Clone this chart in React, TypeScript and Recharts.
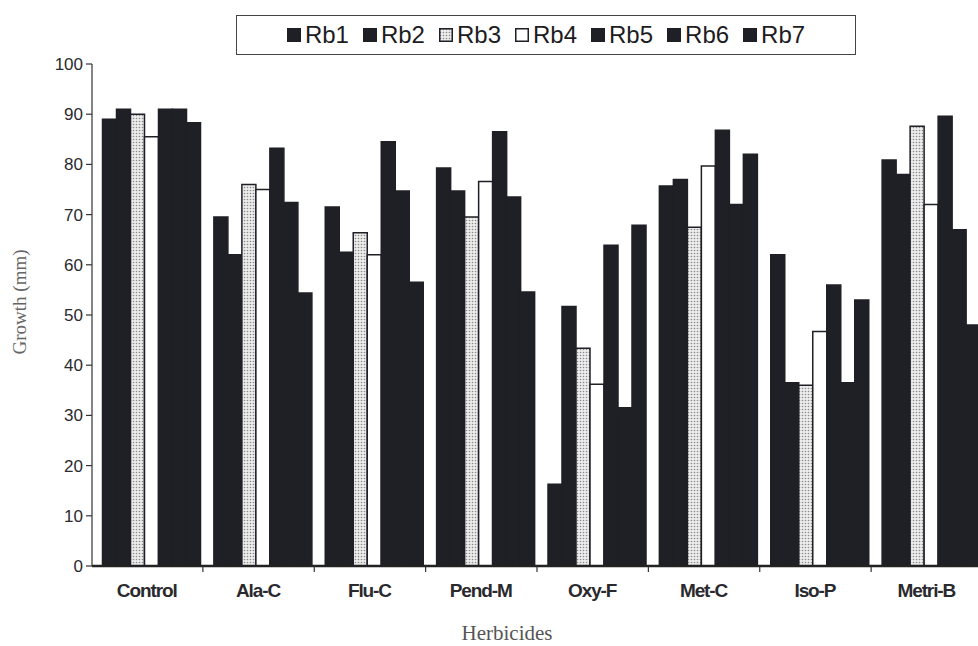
import React from 'react';
import { BarChart, Bar, XAxis, YAxis, Legend } from 'recharts';

const categories = ['Control', 'Ala-C', 'Flu-C', 'Pend-M', 'Oxy-F', 'Met-C', 'Iso-P', 'Metri-B'];
const rb1 = [89, 69.5, 71.5, 79.3, 16.3, 75.7, 62, 80.9];
const rb2 = [91, 62, 62.5, 74.7, 51.7, 77, 36.5, 78];
const rb3 = [90, 76, 66.4, 69.5, 43.4, 67.5, 36, 87.6];
const rb4 = [85.5, 75, 62, 76.6, 36.2, 79.7, 46.7, 72];
const rb5 = [91, 83.2, 84.5, 86.5, 63.9, 86.8, 56, 89.6];
const rb6 = [91, 72.4, 74.7, 73.5, 31.5, 72, 36.5, 67];
const rb7 = [88.3, 54.4, 56.5, 54.6, 67.9, 82, 53, 48];
const yTicks = [0, 10, 20, 30, 40, 50, 60, 70, 80, 90, 100];
const seriesNames = ['Rb1', 'Rb2', 'Rb3', 'Rb4', 'Rb5', 'Rb6', 'Rb7'];
const seriesValues = [rb1, rb2, rb3, rb4, rb5, rb6, rb7];

const data = categories.map((c, i) => {
  const row: any = { name: c };
  seriesNames.forEach((s, k) => { row[s] = seriesValues[k][i]; });
  return row;
});

const DARK = '#1f1f26';
const styles: Record<string, { fill: string; stroke: string }> = {
  Rb1: { fill: DARK, stroke: DARK },
  Rb2: { fill: DARK, stroke: DARK },
  Rb3: { fill: 'url(#dotPat)', stroke: DARK },
  Rb4: { fill: '#ffffff', stroke: DARK },
  Rb5: { fill: DARK, stroke: DARK },
  Rb6: { fill: DARK, stroke: DARK },
  Rb7: { fill: DARK, stroke: DARK },
};

const CHART_W = 988;
const CHART_H = 646;
const PLOT_LEFT = 92;
const PAD_LEFT = 5;
const CAT_GAP = 5.5;
const BAND = (CHART_W - PLOT_LEFT - PAD_LEFT) / categories.length;

const XTick = (props: any) => {
  const { x, y, payload } = props;
  const tx = x + BAND / 2 - CAT_GAP;
  return (
    <g>
      <line x1={tx} x2={tx} y1={y - 6} y2={y} stroke="#333" strokeWidth={1.2} />
      <text
        x={x - 6}
        y={y + 25}
        textAnchor="middle"
        fontFamily="'Liberation Sans', Arial, sans-serif"
        fontWeight="bold"
        fontSize={19}
        letterSpacing={-1.1}
        fill="#2a2a2e"
      >
        {payload.value}
      </text>
    </g>
  );
};

const renderLegend = () => (
  <div
    style={{
      border: '1.5px solid #444',
      height: 40,
      boxSizing: 'border-box',
      display: 'flex',
      alignItems: 'center',
      justifyContent: 'center',
      fontFamily: "'Liberation Sans', Arial, sans-serif",
      fontSize: 24,
      color: '#1c1c22',
    }}
  >
    {seriesNames.map((s) => (
      <div key={s} style={{ display: 'flex', alignItems: 'center', margin: '0 7px' }}>
        <svg width={14} height={14} style={{ marginRight: 4 }}>
          <rect x={0.75} y={0.75} width={12.5} height={12.5} fill={styles[s].fill} stroke={styles[s].stroke} strokeWidth={1.5} />
        </svg>
        <span>{s}</span>
      </div>
    ))}
  </div>
);

export default function App() {
  return (
    <div style={{ position: 'fixed', left: 0, top: 0, width: 978, height: 646, overflow: 'hidden', background: '#fff' }}>
      <BarChart
        width={CHART_W}
        height={CHART_H}
        data={data}
        margin={{ top: 24, right: 0, left: 42, bottom: 0 }}
        barCategoryGap={CAT_GAP}
        barGap={0}
      >
        <defs>
          <pattern id="dotPat" width={3} height={3} patternUnits="userSpaceOnUse">
            <rect width={3} height={3} fill="#ececec" />
            <circle cx={1.5} cy={1.5} r={0.8} fill="#8a8a8a" />
          </pattern>
        </defs>
        <Legend verticalAlign="top" content={renderLegend} wrapperStyle={{ top: 15, left: 236, width: 620 }} />
        <XAxis
          dataKey="name"
          height={80}
          padding={{ left: PAD_LEFT, right: 0 }}
          tickLine={false}
          tickSize={6}
          tickMargin={0}
          axisLine={{ stroke: '#222', strokeWidth: 2.5 }}
          tick={<XTick />}
          interval={0}
          label={{
            content: (p: any) => {
              const vb = p.viewBox;
              return (
                <text x={vb.x + vb.width / 2 - 33} y={vb.y + vb.height - 6} textAnchor="middle" fontFamily="'Liberation Serif', 'Times New Roman', serif" fontSize={21} fill="#555">
                  Herbicides
                </text>
              );
            },
          }}
        />
        <YAxis
          width={50}
          domain={[0, 100]}
          ticks={yTicks}
          interval={0}
          tickSize={6}
          tickMargin={3}
          tick={{ fontSize: 17, fill: '#2a2a2e', fontFamily: "'Liberation Sans', Arial, sans-serif" }}
          tickLine={{ stroke: '#333', strokeWidth: 1.2 }}
          axisLine={{ stroke: '#333', strokeWidth: 1.2 }}
          label={{
            content: (p: any) => {
              const vb = p.viewBox;
              const cx = vb.x - 20;
              const cy = vb.y + vb.height / 2 - 13;
              return (
                <text x={cx} y={cy} textAnchor="middle" dominantBaseline="middle" transform={`rotate(-90, ${cx}, ${cy})`} fontFamily="'Liberation Serif', 'Times New Roman', serif" fontSize={19} fill="#666">
                  Growth (mm)
                </text>
              );
            },
          }}
        />
        {seriesNames.map((s) => (
          <Bar
            key={s}
            dataKey={s}
            fill={styles[s].fill}
            stroke={styles[s].stroke}
            strokeWidth={1.5}
            isAnimationActive={false}
          />
        ))}
      </BarChart>
    </div>
  );
}
